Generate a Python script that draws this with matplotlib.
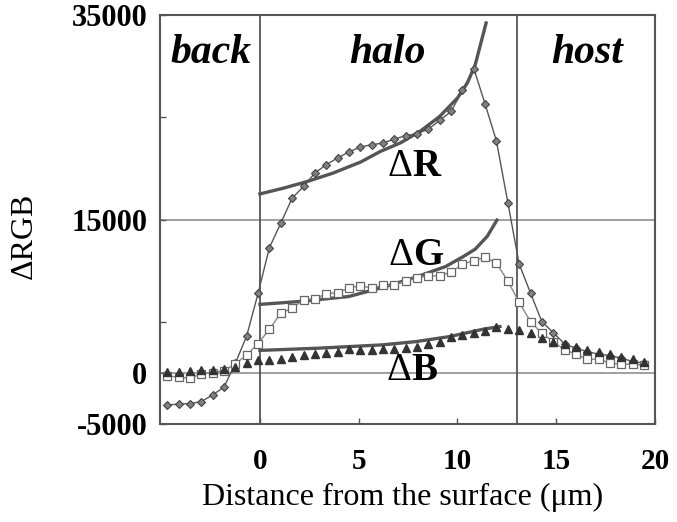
import numpy as np
import matplotlib
matplotlib.use("Agg")
import matplotlib.pyplot as plt

plt.rcParams['font.family'] = ['Liberation Serif', 'DejaVu Serif']

# sampling positions (um) shared by the three measured profiles
dist = [-4.69, -4.12, -3.54, -2.97, -2.39, -1.82, -1.24, -0.67, -0.09, 0.48,
        1.06, 1.63, 2.21, 2.78, 3.35, 3.93, 4.50, 5.08, 5.65, 6.23,
        6.80, 7.38, 7.95, 8.53, 9.10, 9.68, 10.25, 10.83, 11.40, 11.97,
        12.55, 13.12, 13.70, 14.27, 14.85, 15.42, 16.00, 16.57, 17.15, 17.72,
        18.29, 18.87, 19.44]

dR = [-3130, -3060, -3000, -2810, -2150, -1400, 950, 3620, 7800, 12260,
      14650, 17090, 18230, 19540, 20350, 21010, 21600, 22090, 22310, 22480,
      22870, 23190, 23390, 23840, 24690, 25570, 27620, 29750, 26290, 22700,
      16660, 10670, 7800, 5020, 3940, 2840, 2410, 2080, 1830, 1700,
      1440, 1110, 950]

dG = [-290, -420, -520, -100, 30, 230, 880, 1760, 2870, 4270,
      5840, 6330, 7140, 7240, 7730, 7860, 8290, 8540, 8290, 8560,
      8610, 9030, 9270, 9490, 9490, 9850, 10640, 10960, 11320, 10730,
      9000, 6900, 5020, 3880, 3060, 2250, 1830, 1340, 1340, 950,
      850, 850, 760]

dB = [80, 130, 200, 290, 290, 360, 620, 950, 1270, 1300,
      1370, 1550, 1760, 1830, 1930, 2050, 2300, 2250, 2250, 2320,
      2320, 2420, 2570, 2840, 3060, 3550, 3720, 3940, 4140, 4450,
      4270, 4150, 3880, 3440, 3060, 2780, 2490, 2210, 2000, 1800,
      1530, 1340, 1030]

# fitted curves inside the halo
fitR_x = [0, 1.2, 2.4, 3.7, 5.1, 6.1, 7.1, 8.1, 9.1, 10.0, 10.5, 10.9, 11.45]
fitR_y = [17500, 18070, 18720, 19540, 20620, 21660, 22480, 23610, 25080,
          26880, 28350, 30140, 34220]
fitG_x = [0, 2.0, 4.5, 6.1, 7.8, 9.4, 10.3, 10.9, 11.5, 12.0]
fitG_y = [6700, 6980, 7470, 8300, 9300, 10400, 11380, 12100, 13340, 14940]
fitB_x = [0, 2.9, 6.2, 7.9, 9.6, 11.3, 12.15]
fitB_y = [2200, 2410, 2740, 3060, 3550, 4270, 4530]

regions = ['back', 'halo', 'host']
region_x = [-2.48, 6.43, 16.56]

curve_names = ['R', 'G', 'B']
curve_lab_x = [7.7, 7.75, 7.65]
curve_lab_y = [20160, 11450, 200]

fig = plt.figure(figsize=(6.77, 5.22), dpi=100)
ax = fig.add_axes([0.2363, 0.1877, 0.7312, 0.7836])

ax.axhline(0, color='#999999', lw=1.3, zorder=1)
ax.axhline(15000, color='#999999', lw=1.3, zorder=1)
ax.axvline(0, color='#555555', lw=1.3, zorder=1)
ax.axvline(13, color='#555555', lw=1.3, zorder=1)

ax.plot(fitR_x, fitR_y, color='#555555', lw=2.4, zorder=3)
ax.plot(fitG_x, fitG_y, color='#555555', lw=2.4, zorder=3)
ax.plot(fitB_x, fitB_y, color='#555555', lw=2.4, zorder=3)

ax.plot(dist, dR, color='#555555', lw=1.0, marker='D', ms=4.3,
        mfc='#808080', mec='#444444', mew=0.8, zorder=4)
ax.plot(dist, dG, color='#888888', lw=1.0, marker='s', ms=5.5,
        mfc='white', mec='#666666', mew=0.9, zorder=4)
ax.plot(dist, dB, ls='none', marker='^', ms=6,
        mfc='#333333', mec='#333333', zorder=4)

for name, xpos in zip(regions, region_x):
    ax.text(xpos, 31300, name, ha='center', va='center', fontsize=30,
            fontweight='bold', style='italic')

# delta sign in normal weight, channel letter in bold
for name, xpos, ypos in zip(curve_names, curve_lab_x, curve_lab_y):
    ax.text(xpos, ypos, 'Δ', ha='right', va='center', fontsize=28)
    ax.text(xpos, ypos, name, ha='left', va='center', fontsize=28,
            fontweight='bold')

ax.set_xlim(-5.06, 20)
ax.set_ylim(-5000, 35000)
ax.set_xticks([0, 5, 10, 15, 20])
ax.set_yticks([-5000, 0, 5000, 15000, 25000, 35000])
ax.set_yticklabels(['-5000', '0', '', '15000', '', '35000'])
ax.tick_params(direction='in', length=4, width=1, color='#555555')
ax.tick_params(axis='x', labelsize=21, pad=17)
ax.tick_params(axis='y', labelsize=22, pad=9)
for lab in ax.get_xticklabels() + ax.get_yticklabels():
    lab.set_fontweight('bold')

for sp in ax.spines.values():
    sp.set_color('#555555')
    sp.set_linewidth(1.5)

ax.set_xlabel('Distance from the surface (μm)', fontsize=23)
ax.set_ylabel('ΔRGB', fontsize=23)
ax.xaxis.set_label_coords(0.49, -0.143)
ax.yaxis.set_label_coords(-0.245, 0.46)

fig.savefig('out.png', dpi=100)
